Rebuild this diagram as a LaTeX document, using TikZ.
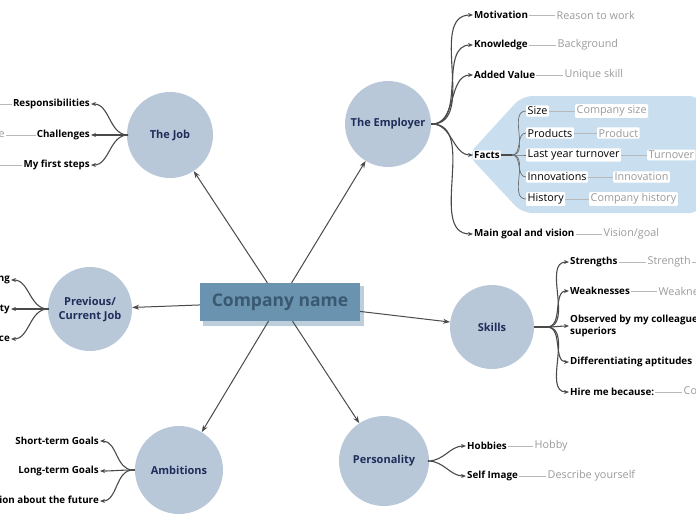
\documentclass[tikz,border=0pt]{standalone}
\usepackage{fontspec}
\setmainfont{Open Sans}
\usetikzlibrary{arrows.meta,calc}
\definecolor{circ}{HTML}{B9C8D9}
\definecolor{navy}{HTML}{1F2D5A}
\definecolor{boxc}{HTML}{6A93B0}
\definecolor{boxt}{HTML}{3A5870}
\definecolor{grey}{HTML}{9A9A9A}
\definecolor{panel}{HTML}{C9DFEF}
\definecolor{ln}{HTML}{4A4A4A}
\begin{document}
\begin{tikzpicture}[x=1pt,y=-1pt,
  topic/.style={circle,fill=circ,minimum size=86pt,inner sep=0pt,align=center,font=\fontsize{11}{14}\selectfont\bfseries,text=navy},
  lab/.style={inner sep=1pt,font=\fontsize{9.8}{11.5}\selectfont\bfseries},
  sub/.style={inner sep=1.5pt,fill=white,rounded corners=1pt,font=\fontsize{10.8}{12}\selectfont},
  gr/.style={inner sep=1.5pt,text=grey,font=\fontsize{10.8}{12}\selectfont},
  grs/.style={inner sep=1.5pt,fill=white,rounded corners=1pt,text=grey,font=\fontsize{10.8}{12}\selectfont},
  main/.style={draw=ln,line width=1pt,-{Stealth[length=7pt,width=5pt]}},
  br/.style={draw=ln,line width=1.1pt,-{Stealth[length=5pt,width=4pt]}},
  gl/.style={draw=grey!70,line width=0.7pt}]
\useasboundingbox (0,0) rectangle (696,520);
% central box
\fill[boxc!45] (203,286) rectangle (364,326);
\node[fill=boxc,minimum width=160pt,minimum height=38pt,inner sep=0pt,font=\fontsize{17.5}{20}\selectfont\bfseries,text=boxt] (c) at (280,302) {Company name};
% topics
\node[topic] (job) at (170,135) {The Job};
\node[topic] (emp) at (388,124) {The Employer};
\node[topic,minimum size=84pt] (prev) at (90,309) {Previous/\\Current Job};
\node[topic,minimum size=84pt] (sk) at (492,327) {Skills};
\node[topic,minimum size=88pt] (amb) at (179,470) {Ambitions};
\node[topic,minimum size=90pt] (per) at (384,461) {Personality};
\draw[main] (c) -- (job);
\draw[main] (c) -- (emp);
\draw[main] (c) -- (prev);
\draw[main] (c) -- (sk);
\draw[main] (c) -- (amb);
\draw[main] (c) -- (per);
% The Job
\coordinate (fj) at (128,135);
\node[lab,anchor=east] (j1) at (91,104) {Responsibilities};
\node[lab,anchor=east] (j2) at (91,135) {Challenges};
\node[lab,anchor=east] (j3) at (91,165) {My first steps};
\draw[line width=1.8pt,ln] (job.west) -- (fj);
\foreach \n in {j1,j2,j3}{\draw[br] (fj) to[out=180,in=0] (\n.east);}
\coordinate (g1) at (0,104); \draw[gl] (g1) -- (j1.west);
\node[gr,anchor=west] (jg2) at (-3,135) {e}; \draw[gl] (jg2) -- (j2.west);
\coordinate (g3) at (0,165); \draw[gl] (g3) -- (j3.west);
% Previous
\coordinate (fp) at (48,309);
\node[lab,anchor=east] (p1) at (11,280) {ng};
\node[lab,anchor=east] (p2) at (11,309) {ty};
\node[lab,anchor=east] (p3) at (11,339) {ce};
\draw[line width=1.8pt,ln] (prev.west) -- (fp);
\foreach \n in {p1,p2,p3}{\draw[br] (fp) to[out=180,in=0] (\n.east);}
% Employer
\coordinate (fe) at (432,124);
\draw[line width=1.8pt,ln] (emp.east) -- (fe);
\fill[panel,rounded corners=10pt] (468,155) -- (522,96) -- (700,96) -- (700,213) -- (522,213) -- cycle;
\node[lab,anchor=west] (e1) at (473,15) {Motivation};
\node[lab,anchor=west] (e2) at (473,45) {Knowledge};
\node[lab,anchor=west] (e3) at (473,75) {Added Value};
\node[lab,anchor=west,fill=white,rounded corners=1pt] (e4) at (473,155) {Facts};
\node[lab,anchor=west] (e5) at (473,234) {Main goal and vision};
\foreach \n in {e1,e2,e3,e4,e5}{\draw[br] (fe) to[out=0,in=180] (\n.west);}
\node[gr,anchor=west] (eg1) at (555,15) {Reason to work}; \draw[gl] (e1) -- (eg1);
\node[gr,anchor=west] (eg2) at (556,45) {Background}; \draw[gl] (e2) -- (eg2);
\node[gr,anchor=west] (eg3) at (563,75) {Unique skill}; \draw[gl] (e3) -- (eg3);
\node[gr,anchor=west] (eg5) at (602,234) {Vision/goal}; \draw[gl] (e5) -- (eg5);
% Facts subitems
\coordinate (ff) at (512,155);
\draw[ln,line width=1.8pt] (e4.east) -- (ff);
\node[sub,anchor=west] (f1) at (526,111) {Size};
\node[sub,anchor=west] (f2) at (526,133) {Products};
\node[sub,anchor=west] (f3) at (526,155) {Last year turnover};
\node[sub,anchor=west] (f4) at (526,177) {Innovations};
\node[sub,anchor=west] (f5) at (526,199) {History};
\foreach \n in {f1,f2,f3,f4,f5}{\draw[ln!80,line width=0.7pt] (ff) to[out=0,in=180] (\n.west);}
\node[grs,anchor=west] (fg1) at (575,111) {Company size}; \draw[gl] (f1) -- (fg1);
\node[grs,anchor=west] (fg2) at (597,133) {Product}; \draw[gl] (f2) -- (fg2);
\node[grs,anchor=west] (fg3) at (647,155) {Turnover}; \draw[gl] (f3) -- (fg3);
\node[grs,anchor=west] (fg4) at (613,177) {Innovation}; \draw[gl] (f4) -- (fg4);
\node[grs,anchor=west] (fg5) at (589,199) {Company history}; \draw[gl] (f5) -- (fg5);
% Skills
\coordinate (fs) at (547,327);
\draw[line width=1.8pt,ln] (sk.east) -- (fs);
\node[lab,anchor=west] (s1) at (569,262) {Strengths};
\node[lab,anchor=west] (s2) at (569,291) {Weaknesses};
\node[lab,anchor=west,align=left] (s3) at (569,326) {Observed by my colleagues and\\superiors};
\node[lab,anchor=west] (s4) at (569,362) {Differentiating aptitudes};
\node[lab,anchor=west] (s5) at (569,392) {Hire me because:};
\foreach \n in {s1,s2,s3,s4,s5}{\draw[br] (fs) to[out=0,in=180] (\n.west);}
\node[gr,anchor=west] (sg1) at (646,262) {Strength}; \draw[gl] (s1) -- (sg1);
\coordinate (sg1e) at (700,262); \draw[gl] (sg1) -- (sg1e);
\node[gr,anchor=west] (sg2) at (657,291) {Weaknesses}; \draw[gl] (s2) -- (sg2);
\node[gr,anchor=west] (sg5) at (682,392) {Competences}; \draw[gl] (s5) -- (sg5);
% Ambitions
\coordinate (fa) at (133,470);
\draw[line width=1.8pt,ln] (amb.west) -- (fa);
\node[lab,anchor=east] (a1) at (100,441) {Short-term Goals};
\node[lab,anchor=east] (a2) at (100,471) {Long-term Goals};
\node[lab,anchor=east] (a3) at (100,501) {My vision about the future};
\foreach \n in {a1,a2,a3}{\draw[br] (fa) to[out=180,in=0] (\n.east);}
% Personality
\coordinate (fpe) at (428,461);
\draw[line width=1.8pt,ln] (per.east) -- (fpe);
\node[lab,anchor=west] (h1) at (466,446) {Hobbies};
\node[lab,anchor=west] (h2) at (466,476) {Self Image};
\foreach \n in {h1,h2}{\draw[br] (fpe) to[out=0,in=180] (\n.west);}
\node[gr,anchor=west] (hg1) at (533,446) {Hobby}; \draw[gl] (h1) -- (hg1);
\node[gr,anchor=west] (hg2) at (546,476) {Describe yourself}; \draw[gl] (h2) -- (hg2);
\end{tikzpicture}
\end{document}
